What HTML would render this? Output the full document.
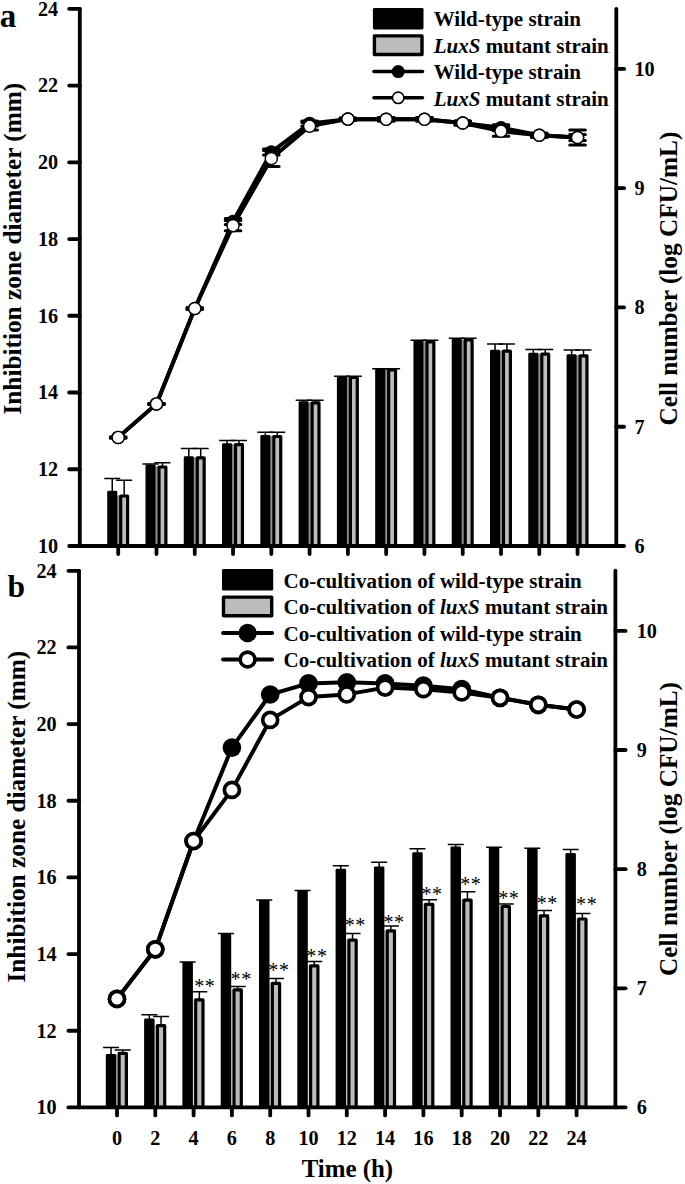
<!DOCTYPE html>
<html><head><meta charset="utf-8"><title>Figure</title>
<style>
html,body{margin:0;padding:0;background:#fff;}
body{width:685px;height:1184px;overflow:hidden;}
svg{display:block;}
text{font-family:"Liberation Serif",serif;font-weight:bold;fill:#000;}
.tk{font-size:20.2px;}
.lg{font-size:21.0px;}
.ax{font-size:25.3px;}
.pl{font-size:33px;}
.st{font-size:20px;font-weight:normal;letter-spacing:0.6px;}
</style></head><body>
<svg width="685" height="1184" viewBox="0 0 685 1184">
<rect width="685" height="1184" fill="#fff"/>
<g id="panel-a">
<rect x="117.00" y="495.40" width="2.40" height="50.60" fill="#909090"/>
<path d="M124.15 496.4 V480.2 M116.15 480.2 H132.15" stroke="#000" stroke-width="1.5" fill="none"/>
<path d="M112.25 492.8 V478.4 M104.25 478.4 H120.25" stroke="#000" stroke-width="1.5" fill="none"/>
<rect x="107.20" y="490.8" width="10.10" height="55.20" rx="1.4" fill="#000"/>
<rect x="120.70" y="496.00" width="6.90" height="50.00" fill="#bcbcbc" stroke="#000" stroke-width="3.2" stroke-linejoin="round"/>
<rect x="155.28" y="466.40" width="2.40" height="79.60" fill="#909090"/>
<path d="M162.43 467.4 V462.7 M154.43 462.7 H170.43" stroke="#000" stroke-width="1.5" fill="none"/>
<path d="M150.53 466.5 V464.09999999999997 M142.53 464.09999999999997 H158.53" stroke="#000" stroke-width="1.5" fill="none"/>
<rect x="145.48" y="464.5" width="10.10" height="81.50" rx="1.4" fill="#000"/>
<rect x="158.98" y="467.00" width="6.90" height="79.00" fill="#bcbcbc" stroke="#000" stroke-width="3.2" stroke-linejoin="round"/>
<rect x="193.56" y="457.30" width="2.40" height="88.70" fill="#909090"/>
<path d="M200.71 458.2 V448.59999999999997 M192.71 448.59999999999997 H208.71" stroke="#000" stroke-width="1.5" fill="none"/>
<path d="M188.81 458.3 V448.59999999999997 M180.81 448.59999999999997 H196.81" stroke="#000" stroke-width="1.5" fill="none"/>
<rect x="183.76" y="456.3" width="10.10" height="89.70" rx="1.4" fill="#000"/>
<rect x="197.26" y="457.80" width="6.90" height="88.20" fill="#bcbcbc" stroke="#000" stroke-width="3.2" stroke-linejoin="round"/>
<rect x="231.84" y="444.20" width="2.40" height="101.80" fill="#909090"/>
<path d="M238.99 445.09999999999997 V440.4 M230.99 440.4 H246.99" stroke="#000" stroke-width="1.5" fill="none"/>
<path d="M227.09 445.2 V440.4 M219.09 440.4 H235.09" stroke="#000" stroke-width="1.5" fill="none"/>
<rect x="222.04" y="443.2" width="10.10" height="102.80" rx="1.4" fill="#000"/>
<rect x="235.54" y="444.70" width="6.90" height="101.30" fill="#bcbcbc" stroke="#000" stroke-width="3.2" stroke-linejoin="round"/>
<rect x="270.12" y="436.00" width="2.40" height="110.00" fill="#909090"/>
<path d="M277.27 436.9 V432.29999999999995 M269.27 432.29999999999995 H285.27" stroke="#000" stroke-width="1.5" fill="none"/>
<path d="M265.37 437.0 V432.29999999999995 M257.37 432.29999999999995 H273.37" stroke="#000" stroke-width="1.5" fill="none"/>
<rect x="260.32" y="435.0" width="10.10" height="111.00" rx="1.4" fill="#000"/>
<rect x="273.82" y="436.50" width="6.90" height="109.50" fill="#bcbcbc" stroke="#000" stroke-width="3.2" stroke-linejoin="round"/>
<rect x="308.40" y="402.30" width="2.40" height="143.70" fill="#909090"/>
<path d="M315.55 403.2 V400.2 M307.55 400.2 H323.55" stroke="#000" stroke-width="1.5" fill="none"/>
<path d="M303.65 403.3 V400.2 M295.65 400.2 H311.65" stroke="#000" stroke-width="1.5" fill="none"/>
<rect x="298.60" y="401.3" width="10.10" height="144.70" rx="1.4" fill="#000"/>
<rect x="312.10" y="402.80" width="6.90" height="143.20" fill="#bcbcbc" stroke="#000" stroke-width="3.2" stroke-linejoin="round"/>
<rect x="346.68" y="377.00" width="2.40" height="169.00" fill="#909090"/>
<path d="M353.83 377.9 V376.2 M345.83 376.2 H361.83" stroke="#000" stroke-width="1.5" fill="none"/>
<path d="M341.93 378.0 V376.2 M333.93 376.2 H349.93" stroke="#000" stroke-width="1.5" fill="none"/>
<rect x="336.88" y="376.0" width="10.10" height="170.00" rx="1.4" fill="#000"/>
<rect x="350.38" y="377.50" width="6.90" height="168.50" fill="#bcbcbc" stroke="#000" stroke-width="3.2" stroke-linejoin="round"/>
<rect x="384.96" y="369.50" width="2.40" height="176.50" fill="#909090"/>
<path d="M392.11 370.4 V368.7 M384.11 368.7 H400.11" stroke="#000" stroke-width="1.5" fill="none"/>
<path d="M380.21 370.5 V368.7 M372.21 368.7 H388.21" stroke="#000" stroke-width="1.5" fill="none"/>
<rect x="375.16" y="368.5" width="10.10" height="177.50" rx="1.4" fill="#000"/>
<rect x="388.66" y="370.00" width="6.90" height="176.00" fill="#bcbcbc" stroke="#000" stroke-width="3.2" stroke-linejoin="round"/>
<rect x="423.24" y="341.50" width="2.40" height="204.50" fill="#909090"/>
<path d="M430.39 342.4 V340.2 M422.39 340.2 H438.39" stroke="#000" stroke-width="1.5" fill="none"/>
<path d="M418.49 342.5 V340.2 M410.49 340.2 H426.49" stroke="#000" stroke-width="1.5" fill="none"/>
<rect x="413.44" y="340.5" width="10.10" height="205.50" rx="1.4" fill="#000"/>
<rect x="426.94" y="342.00" width="6.90" height="204.00" fill="#bcbcbc" stroke="#000" stroke-width="3.2" stroke-linejoin="round"/>
<rect x="461.52" y="339.50" width="2.40" height="206.50" fill="#909090"/>
<path d="M468.67 340.4 V338.2 M460.67 338.2 H476.67" stroke="#000" stroke-width="1.5" fill="none"/>
<path d="M456.77 340.5 V338.2 M448.77 338.2 H464.77" stroke="#000" stroke-width="1.5" fill="none"/>
<rect x="451.72" y="338.5" width="10.10" height="207.50" rx="1.4" fill="#000"/>
<rect x="465.22" y="340.00" width="6.90" height="206.00" fill="#bcbcbc" stroke="#000" stroke-width="3.2" stroke-linejoin="round"/>
<rect x="499.80" y="350.70" width="2.40" height="195.30" fill="#909090"/>
<path d="M506.95 351.59999999999997 V344.0 M498.95 344.0 H514.95" stroke="#000" stroke-width="1.5" fill="none"/>
<path d="M495.05 351.7 V344.0 M487.05 344.0 H503.05" stroke="#000" stroke-width="1.5" fill="none"/>
<rect x="490.00" y="349.7" width="10.10" height="196.30" rx="1.4" fill="#000"/>
<rect x="503.50" y="351.20" width="6.90" height="194.80" fill="#bcbcbc" stroke="#000" stroke-width="3.2" stroke-linejoin="round"/>
<rect x="538.08" y="353.70" width="2.40" height="192.30" fill="#909090"/>
<path d="M545.23 354.59999999999997 V349.59999999999997 M537.23 349.59999999999997 H553.23" stroke="#000" stroke-width="1.5" fill="none"/>
<path d="M533.33 354.7 V349.59999999999997 M525.33 349.59999999999997 H541.33" stroke="#000" stroke-width="1.5" fill="none"/>
<rect x="528.28" y="352.7" width="10.10" height="193.30" rx="1.4" fill="#000"/>
<rect x="541.78" y="354.20" width="6.90" height="191.80" fill="#bcbcbc" stroke="#000" stroke-width="3.2" stroke-linejoin="round"/>
<rect x="576.36" y="355.30" width="2.40" height="190.70" fill="#909090"/>
<path d="M583.51 356.2 V350.09999999999997 M575.51 350.09999999999997 H591.51" stroke="#000" stroke-width="1.5" fill="none"/>
<path d="M571.61 356.3 V350.09999999999997 M563.61 350.09999999999997 H579.61" stroke="#000" stroke-width="1.5" fill="none"/>
<rect x="566.56" y="354.3" width="10.10" height="191.70" rx="1.4" fill="#000"/>
<rect x="580.06" y="355.80" width="6.90" height="190.20" fill="#bcbcbc" stroke="#000" stroke-width="3.2" stroke-linejoin="round"/>
<path d="M79.8 8.8 V546.0" stroke="#000" stroke-width="3.8" stroke-linecap="round" fill="none"/>
<path d="M69.2 546.0 H624.1" stroke="#000" stroke-width="3.8" stroke-linecap="round" fill="none"/>
<path d="M616.3 8.8 V546.0" stroke="#000" stroke-width="3.8" stroke-linecap="round" fill="none"/>
<text x="58.2" y="552.90" text-anchor="end" class="tk">10</text>
<path d="M69.2 469.26 H79.8" stroke="#000" stroke-width="3.8" stroke-linecap="round" fill="none"/>
<text x="58.2" y="476.16" text-anchor="end" class="tk">12</text>
<path d="M69.2 392.51 H79.8" stroke="#000" stroke-width="3.8" stroke-linecap="round" fill="none"/>
<text x="58.2" y="399.41" text-anchor="end" class="tk">14</text>
<path d="M69.2 315.77 H79.8" stroke="#000" stroke-width="3.8" stroke-linecap="round" fill="none"/>
<text x="58.2" y="322.67" text-anchor="end" class="tk">16</text>
<path d="M69.2 239.03 H79.8" stroke="#000" stroke-width="3.8" stroke-linecap="round" fill="none"/>
<text x="58.2" y="245.93" text-anchor="end" class="tk">18</text>
<path d="M69.2 162.29 H79.8" stroke="#000" stroke-width="3.8" stroke-linecap="round" fill="none"/>
<text x="58.2" y="169.19" text-anchor="end" class="tk">20</text>
<path d="M69.2 85.54 H79.8" stroke="#000" stroke-width="3.8" stroke-linecap="round" fill="none"/>
<text x="58.2" y="92.44" text-anchor="end" class="tk">22</text>
<path d="M69.2 8.80 H79.8" stroke="#000" stroke-width="3.8" stroke-linecap="round" fill="none"/>
<text x="58.2" y="15.70" text-anchor="end" class="tk">24</text>
<text x="634.5" y="552.90" class="tk">6</text>
<path d="M616.3 426.73 H624.1" stroke="#000" stroke-width="3.8" stroke-linecap="round" fill="none"/>
<text x="634.5" y="433.62" class="tk">7</text>
<path d="M616.3 307.45 H624.1" stroke="#000" stroke-width="3.8" stroke-linecap="round" fill="none"/>
<text x="634.5" y="314.35" class="tk">8</text>
<path d="M616.3 188.17 H624.1" stroke="#000" stroke-width="3.8" stroke-linecap="round" fill="none"/>
<text x="634.5" y="195.07" class="tk">9</text>
<path d="M616.3 68.90 H624.1" stroke="#000" stroke-width="3.8" stroke-linecap="round" fill="none"/>
<text x="634.5" y="75.80" class="tk">10</text>
<path d="M118.20 546.0 V554.00" stroke="#000" stroke-width="3.8" stroke-linecap="round" fill="none"/>
<path d="M156.48 546.0 V554.00" stroke="#000" stroke-width="3.8" stroke-linecap="round" fill="none"/>
<path d="M194.76 546.0 V554.00" stroke="#000" stroke-width="3.8" stroke-linecap="round" fill="none"/>
<path d="M233.04 546.0 V554.00" stroke="#000" stroke-width="3.8" stroke-linecap="round" fill="none"/>
<path d="M271.32 546.0 V554.00" stroke="#000" stroke-width="3.8" stroke-linecap="round" fill="none"/>
<path d="M309.60 546.0 V554.00" stroke="#000" stroke-width="3.8" stroke-linecap="round" fill="none"/>
<path d="M347.88 546.0 V554.00" stroke="#000" stroke-width="3.8" stroke-linecap="round" fill="none"/>
<path d="M386.16 546.0 V554.00" stroke="#000" stroke-width="3.8" stroke-linecap="round" fill="none"/>
<path d="M424.44 546.0 V554.00" stroke="#000" stroke-width="3.8" stroke-linecap="round" fill="none"/>
<path d="M462.72 546.0 V554.00" stroke="#000" stroke-width="3.8" stroke-linecap="round" fill="none"/>
<path d="M501.00 546.0 V554.00" stroke="#000" stroke-width="3.8" stroke-linecap="round" fill="none"/>
<path d="M539.28 546.0 V554.00" stroke="#000" stroke-width="3.8" stroke-linecap="round" fill="none"/>
<path d="M577.56 546.0 V554.00" stroke="#000" stroke-width="3.8" stroke-linecap="round" fill="none"/>
<polyline points="118.20,437.40 156.48,403.90 194.76,308.50 233.04,221.50 271.32,152.00 309.60,123.40 347.88,119.10 386.16,119.30 424.44,119.30 462.72,123.00 501.00,127.70 539.28,135.20 577.56,137.50" fill="none" stroke="#000" stroke-width="3.9" stroke-linejoin="round"/>
<path d="M118.20 436.90 V437.90 M110.40 436.90 h15.6 M110.40 437.90 h15.6" stroke="#000" stroke-width="3.0" stroke-linecap="round" fill="none"/>
<path d="M156.48 403.40 V404.40 M148.68 403.40 h15.6 M148.68 404.40 h15.6" stroke="#000" stroke-width="3.0" stroke-linecap="round" fill="none"/>
<path d="M194.76 307.70 V309.30 M186.96 307.70 h15.6 M186.96 309.30 h15.6" stroke="#000" stroke-width="3.0" stroke-linecap="round" fill="none"/>
<path d="M233.04 218.50 V224.50 M225.24 218.50 h15.6 M225.24 224.50 h15.6" stroke="#000" stroke-width="3.0" stroke-linecap="round" fill="none"/>
<path d="M271.32 149.00 V155.00 M263.52 149.00 h15.6 M263.52 155.00 h15.6" stroke="#000" stroke-width="3.0" stroke-linecap="round" fill="none"/>
<path d="M309.60 120.90 V125.90 M301.80 120.90 h15.6 M301.80 125.90 h15.6" stroke="#000" stroke-width="3.0" stroke-linecap="round" fill="none"/>
<path d="M347.88 117.90 V120.30 M340.08 117.90 h15.6 M340.08 120.30 h15.6" stroke="#000" stroke-width="3.0" stroke-linecap="round" fill="none"/>
<path d="M386.16 117.50 V121.10 M378.36 117.50 h15.6 M378.36 121.10 h15.6" stroke="#000" stroke-width="3.0" stroke-linecap="round" fill="none"/>
<path d="M424.44 117.50 V121.10 M416.64 117.50 h15.6 M416.64 121.10 h15.6" stroke="#000" stroke-width="3.0" stroke-linecap="round" fill="none"/>
<path d="M462.72 121.00 V125.00 M454.92 121.00 h15.6 M454.92 125.00 h15.6" stroke="#000" stroke-width="3.0" stroke-linecap="round" fill="none"/>
<path d="M501.00 124.70 V130.70 M493.20 124.70 h15.6 M493.20 130.70 h15.6" stroke="#000" stroke-width="3.0" stroke-linecap="round" fill="none"/>
<path d="M539.28 133.20 V137.20 M531.48 133.20 h15.6 M531.48 137.20 h15.6" stroke="#000" stroke-width="3.0" stroke-linecap="round" fill="none"/>
<path d="M577.56 134.50 V140.50 M569.76 134.50 h15.6 M569.76 140.50 h15.6" stroke="#000" stroke-width="3.0" stroke-linecap="round" fill="none"/>
<circle cx="118.20" cy="437.40" r="6.77" fill="#000"/>
<circle cx="156.48" cy="403.90" r="6.77" fill="#000"/>
<circle cx="194.76" cy="308.50" r="6.77" fill="#000"/>
<circle cx="233.04" cy="221.50" r="6.77" fill="#000"/>
<circle cx="271.32" cy="152.00" r="6.77" fill="#000"/>
<circle cx="309.60" cy="123.40" r="6.77" fill="#000"/>
<circle cx="347.88" cy="119.10" r="6.77" fill="#000"/>
<circle cx="386.16" cy="119.30" r="6.77" fill="#000"/>
<circle cx="424.44" cy="119.30" r="6.77" fill="#000"/>
<circle cx="462.72" cy="123.00" r="6.77" fill="#000"/>
<circle cx="501.00" cy="127.70" r="6.77" fill="#000"/>
<circle cx="539.28" cy="135.20" r="6.77" fill="#000"/>
<circle cx="577.56" cy="137.50" r="6.77" fill="#000"/>
<polyline points="118.20,437.40 156.48,403.90 194.76,308.50 233.04,225.60 271.32,158.50 309.60,126.20 347.88,119.10 386.16,119.30 424.44,119.30 462.72,123.00 501.00,131.20 539.28,135.20 577.56,137.50" fill="none" stroke="#000" stroke-width="3.9" stroke-linejoin="round"/>
<path d="M118.20 436.90 V437.90 M110.40 436.90 h15.6 M110.40 437.90 h15.6" stroke="#000" stroke-width="3.0" stroke-linecap="round" fill="none"/>
<path d="M156.48 403.40 V404.40 M148.68 403.40 h15.6 M148.68 404.40 h15.6" stroke="#000" stroke-width="3.0" stroke-linecap="round" fill="none"/>
<path d="M194.76 307.70 V309.30 M186.96 307.70 h15.6 M186.96 309.30 h15.6" stroke="#000" stroke-width="3.0" stroke-linecap="round" fill="none"/>
<path d="M233.04 220.40 V230.80 M225.24 220.40 h15.6 M225.24 230.80 h15.6" stroke="#000" stroke-width="3.0" stroke-linecap="round" fill="none"/>
<path d="M271.32 150.50 V166.50 M263.52 150.50 h15.6 M263.52 166.50 h15.6" stroke="#000" stroke-width="3.0" stroke-linecap="round" fill="none"/>
<path d="M309.60 122.40 V130.00 M301.80 122.40 h15.6 M301.80 130.00 h15.6" stroke="#000" stroke-width="3.0" stroke-linecap="round" fill="none"/>
<path d="M347.88 117.90 V120.30 M340.08 117.90 h15.6 M340.08 120.30 h15.6" stroke="#000" stroke-width="3.0" stroke-linecap="round" fill="none"/>
<path d="M386.16 117.50 V121.10 M378.36 117.50 h15.6 M378.36 121.10 h15.6" stroke="#000" stroke-width="3.0" stroke-linecap="round" fill="none"/>
<path d="M424.44 117.50 V121.10 M416.64 117.50 h15.6 M416.64 121.10 h15.6" stroke="#000" stroke-width="3.0" stroke-linecap="round" fill="none"/>
<path d="M462.72 121.00 V125.00 M454.92 121.00 h15.6 M454.92 125.00 h15.6" stroke="#000" stroke-width="3.0" stroke-linecap="round" fill="none"/>
<path d="M501.00 126.20 V136.20 M493.20 126.20 h15.6 M493.20 136.20 h15.6" stroke="#000" stroke-width="3.0" stroke-linecap="round" fill="none"/>
<path d="M539.28 133.20 V137.20 M531.48 133.20 h15.6 M531.48 137.20 h15.6" stroke="#000" stroke-width="3.0" stroke-linecap="round" fill="none"/>
<path d="M577.56 130.00 V145.00 M569.76 130.00 h15.6 M569.76 145.00 h15.6" stroke="#000" stroke-width="3.0" stroke-linecap="round" fill="none"/>
<circle cx="118.20" cy="437.40" r="6.05" fill="#fff" stroke="#000" stroke-width="1.45"/>
<circle cx="156.48" cy="403.90" r="6.05" fill="#fff" stroke="#000" stroke-width="1.45"/>
<circle cx="194.76" cy="308.50" r="6.05" fill="#fff" stroke="#000" stroke-width="1.45"/>
<circle cx="233.04" cy="225.60" r="6.05" fill="#fff" stroke="#000" stroke-width="1.45"/>
<circle cx="271.32" cy="158.50" r="6.05" fill="#fff" stroke="#000" stroke-width="1.45"/>
<circle cx="309.60" cy="126.20" r="6.05" fill="#fff" stroke="#000" stroke-width="1.45"/>
<circle cx="347.88" cy="119.10" r="6.05" fill="#fff" stroke="#000" stroke-width="1.45"/>
<circle cx="386.16" cy="119.30" r="6.05" fill="#fff" stroke="#000" stroke-width="1.45"/>
<circle cx="424.44" cy="119.30" r="6.05" fill="#fff" stroke="#000" stroke-width="1.45"/>
<circle cx="462.72" cy="123.00" r="6.05" fill="#fff" stroke="#000" stroke-width="1.45"/>
<circle cx="501.00" cy="131.20" r="6.05" fill="#fff" stroke="#000" stroke-width="1.45"/>
<circle cx="539.28" cy="135.20" r="6.05" fill="#fff" stroke="#000" stroke-width="1.45"/>
<circle cx="577.56" cy="137.50" r="6.05" fill="#fff" stroke="#000" stroke-width="1.45"/>
<rect x="372.9" y="7.9" width="50.6" height="21.6" rx="1.4" fill="#000"/>
<rect x="374.4" y="35.9" width="47.6" height="18.6" fill="#bcbcbc" stroke="#000" stroke-width="3.4" stroke-linejoin="round"/>
<path d="M373.9 71.60000000000001 H422.5" stroke="#000" stroke-width="3.5" stroke-linecap="round"/>
<circle cx="398.2" cy="71.60000000000001" r="6.5" fill="#000"/>
<path d="M373.9 97.80000000000001 H422.5" stroke="#000" stroke-width="3.5" stroke-linecap="round"/>
<circle cx="398.2" cy="97.80000000000001" r="5.7" fill="#fff" stroke="#000" stroke-width="1.6"/>
<text x="433.7" y="26.40" class="lg">Wild-type strain</text>
<text x="433.7" y="52.80" class="lg"><tspan font-style="italic">LuxS</tspan> mutant strain</text>
<text x="433.7" y="79.20" class="lg">Wild-type strain</text>
<text x="433.7" y="105.60" class="lg"><tspan font-style="italic">LuxS</tspan> mutant strain</text>
<text x="-0.3" y="26.6" class="pl">a</text>
<text transform="translate(21,414.6) rotate(-90)" class="ax">Inhibition zone diameter (mm)</text>
<text transform="translate(676.5,425.6) rotate(-90)" class="ax">Cell number (log CFU/mL)</text>
</g>
<g id="panel-b">
<rect x="116.00" y="1055.10" width="1.80" height="52.30" fill="#d8d8d8"/>
<path d="M122.75 1053.8 V1050 M114.75 1050 H130.75" stroke="#000" stroke-width="1.5" fill="none"/>
<path d="M111.05 1056.1 V1047.4 M103.05 1047.4 H119.05" stroke="#000" stroke-width="1.5" fill="none"/>
<rect x="105.80" y="1054.1" width="10.50" height="53.30" rx="1.4" fill="#000"/>
<rect x="119.10" y="1053.40" width="7.30" height="54.00" fill="#bcbcbc" stroke="#000" stroke-width="3.2" stroke-linejoin="round"/>
<rect x="154.30" y="1025.10" width="1.80" height="82.30" fill="#d8d8d8"/>
<path d="M161.05 1026.1000000000001 V1016.4 M153.05 1016.4 H169.05" stroke="#000" stroke-width="1.5" fill="none"/>
<path d="M149.35 1020.5 V1014.7 M141.35 1014.7 H157.35" stroke="#000" stroke-width="1.5" fill="none"/>
<rect x="144.10" y="1018.5" width="10.50" height="88.90" rx="1.4" fill="#000"/>
<rect x="157.40" y="1025.70" width="7.30" height="81.70" fill="#bcbcbc" stroke="#000" stroke-width="3.2" stroke-linejoin="round"/>
<rect x="192.60" y="999.20" width="1.80" height="108.20" fill="#d8d8d8"/>
<path d="M199.35 1000.2 V991.8 M191.35 991.8 H207.35" stroke="#000" stroke-width="1.5" fill="none"/>
<path d="M187.65 964.1 V962.1 M179.65 962.1 H195.65" stroke="#000" stroke-width="1.5" fill="none"/>
<rect x="182.40" y="962.1" width="10.50" height="145.30" rx="1.4" fill="#000"/>
<rect x="195.70" y="999.80" width="7.30" height="107.60" fill="#bcbcbc" stroke="#000" stroke-width="3.2" stroke-linejoin="round"/>
<text x="194.20" y="993.20" class="st">**</text>
<rect x="230.90" y="989.20" width="1.80" height="118.20" fill="#d8d8d8"/>
<path d="M237.65 990.2 V986.6 M229.65 986.6 H245.65" stroke="#000" stroke-width="1.5" fill="none"/>
<path d="M225.95 935.5 V933.5 M217.95 933.5 H233.95" stroke="#000" stroke-width="1.5" fill="none"/>
<rect x="220.70" y="933.5" width="10.50" height="173.90" rx="1.4" fill="#000"/>
<rect x="234.00" y="989.80" width="7.30" height="117.60" fill="#bcbcbc" stroke="#000" stroke-width="3.2" stroke-linejoin="round"/>
<text x="230.60" y="985.90" class="st">**</text>
<rect x="269.20" y="982.80" width="1.80" height="124.60" fill="#d8d8d8"/>
<path d="M275.95 983.8000000000001 V978.5 M267.95 978.5 H283.95" stroke="#000" stroke-width="1.5" fill="none"/>
<path d="M264.25 902 V900 M256.25 900 H272.25" stroke="#000" stroke-width="1.5" fill="none"/>
<rect x="259.00" y="900" width="10.50" height="207.40" rx="1.4" fill="#000"/>
<rect x="272.30" y="983.40" width="7.30" height="124.00" fill="#bcbcbc" stroke="#000" stroke-width="3.2" stroke-linejoin="round"/>
<text x="268.30" y="977.20" class="st">**</text>
<rect x="307.50" y="965.30" width="1.80" height="142.10" fill="#d8d8d8"/>
<path d="M314.25 966.3000000000001 V961.6 M306.25 961.6 H322.25" stroke="#000" stroke-width="1.5" fill="none"/>
<path d="M302.55 892.4 V890.4 M294.55 890.4 H310.55" stroke="#000" stroke-width="1.5" fill="none"/>
<rect x="297.30" y="890.4" width="10.50" height="217.00" rx="1.4" fill="#000"/>
<rect x="310.60" y="965.90" width="7.30" height="141.50" fill="#bcbcbc" stroke="#000" stroke-width="3.2" stroke-linejoin="round"/>
<text x="306.30" y="963.20" class="st">**</text>
<rect x="345.80" y="939.60" width="1.80" height="167.80" fill="#d8d8d8"/>
<path d="M352.55 940.6 V933.6 M344.55 933.6 H360.55" stroke="#000" stroke-width="1.5" fill="none"/>
<path d="M340.85 870.8 V865.8 M332.85 865.8 H348.85" stroke="#000" stroke-width="1.5" fill="none"/>
<rect x="335.60" y="868.8" width="10.50" height="238.60" rx="1.4" fill="#000"/>
<rect x="348.90" y="940.20" width="7.30" height="167.20" fill="#bcbcbc" stroke="#000" stroke-width="3.2" stroke-linejoin="round"/>
<text x="344.70" y="932.00" class="st">**</text>
<rect x="384.10" y="930.20" width="1.80" height="177.20" fill="#d8d8d8"/>
<path d="M390.85 931.2 V926 M382.85 926 H398.85" stroke="#000" stroke-width="1.5" fill="none"/>
<path d="M379.15 868.4 V862.3 M371.15 862.3 H387.15" stroke="#000" stroke-width="1.5" fill="none"/>
<rect x="373.90" y="866.4" width="10.50" height="241.00" rx="1.4" fill="#000"/>
<rect x="387.20" y="930.80" width="7.30" height="176.60" fill="#bcbcbc" stroke="#000" stroke-width="3.2" stroke-linejoin="round"/>
<text x="383.40" y="928.50" class="st">**</text>
<rect x="422.40" y="903.70" width="1.80" height="203.70" fill="#d8d8d8"/>
<path d="M429.15 904.7 V899.7 M421.15 899.7 H437.15" stroke="#000" stroke-width="1.5" fill="none"/>
<path d="M417.45 854.3 V848.8 M409.45 848.8 H425.45" stroke="#000" stroke-width="1.5" fill="none"/>
<rect x="412.20" y="852.3" width="10.50" height="255.10" rx="1.4" fill="#000"/>
<rect x="425.50" y="904.30" width="7.30" height="203.10" fill="#bcbcbc" stroke="#000" stroke-width="3.2" stroke-linejoin="round"/>
<text x="421.50" y="901.20" class="st">**</text>
<rect x="460.70" y="899.50" width="1.80" height="207.90" fill="#d8d8d8"/>
<path d="M467.45 900.5 V891.7 M459.45 891.7 H475.45" stroke="#000" stroke-width="1.5" fill="none"/>
<path d="M455.75 848.4 V844.4 M447.75 844.4 H463.75" stroke="#000" stroke-width="1.5" fill="none"/>
<rect x="450.50" y="846.4" width="10.50" height="261.00" rx="1.4" fill="#000"/>
<rect x="463.80" y="900.10" width="7.30" height="207.30" fill="#bcbcbc" stroke="#000" stroke-width="3.2" stroke-linejoin="round"/>
<text x="460.20" y="891.00" class="st">**</text>
<rect x="499.00" y="905.90" width="1.80" height="201.50" fill="#d8d8d8"/>
<path d="M505.75 906.9000000000001 V904 M497.75 904 H513.75" stroke="#000" stroke-width="1.5" fill="none"/>
<path d="M494.05 849.3 V847.3 M486.05 847.3 H502.05" stroke="#000" stroke-width="1.5" fill="none"/>
<rect x="488.80" y="847.3" width="10.50" height="260.10" rx="1.4" fill="#000"/>
<rect x="502.10" y="906.50" width="7.30" height="200.90" fill="#bcbcbc" stroke="#000" stroke-width="3.2" stroke-linejoin="round"/>
<text x="498.20" y="904.70" class="st">**</text>
<rect x="537.30" y="915.20" width="1.80" height="192.20" fill="#d8d8d8"/>
<path d="M544.05 916.2 V910.4 M536.05 910.4 H552.05" stroke="#000" stroke-width="1.5" fill="none"/>
<path d="M532.35 850.2 V848.2 M524.35 848.2 H540.35" stroke="#000" stroke-width="1.5" fill="none"/>
<rect x="527.10" y="848.2" width="10.50" height="259.20" rx="1.4" fill="#000"/>
<rect x="540.40" y="915.80" width="7.30" height="191.60" fill="#bcbcbc" stroke="#000" stroke-width="3.2" stroke-linejoin="round"/>
<text x="536.70" y="909.90" class="st">**</text>
<rect x="575.60" y="918.40" width="1.80" height="189.00" fill="#d8d8d8"/>
<path d="M582.35 919.4000000000001 V913.6 M574.35 913.6 H590.35" stroke="#000" stroke-width="1.5" fill="none"/>
<path d="M570.65 855.1 V849.6 M562.65 849.6 H578.65" stroke="#000" stroke-width="1.5" fill="none"/>
<rect x="565.40" y="853.1" width="10.50" height="254.30" rx="1.4" fill="#000"/>
<rect x="578.70" y="919.00" width="7.30" height="188.40" fill="#bcbcbc" stroke="#000" stroke-width="3.2" stroke-linejoin="round"/>
<text x="576.10" y="911.40" class="st">**</text>
<path d="M79.0 570.8 V1107.4" stroke="#000" stroke-width="3.8" stroke-linecap="round" fill="none"/>
<path d="M68.4 1107.4 H625.6" stroke="#000" stroke-width="3.8" stroke-linecap="round" fill="none"/>
<path d="M615.4 570.7 V1107.4" stroke="#000" stroke-width="3.8" stroke-linecap="round" fill="none"/>
<text x="56.7" y="1114.30" text-anchor="end" class="tk">10</text>
<path d="M68.4 1030.74 H79.0" stroke="#000" stroke-width="3.8" stroke-linecap="round" fill="none"/>
<text x="56.7" y="1037.64" text-anchor="end" class="tk">12</text>
<path d="M68.4 954.09 H79.0" stroke="#000" stroke-width="3.8" stroke-linecap="round" fill="none"/>
<text x="56.7" y="960.99" text-anchor="end" class="tk">14</text>
<path d="M68.4 877.43 H79.0" stroke="#000" stroke-width="3.8" stroke-linecap="round" fill="none"/>
<text x="56.7" y="884.33" text-anchor="end" class="tk">16</text>
<path d="M68.4 800.77 H79.0" stroke="#000" stroke-width="3.8" stroke-linecap="round" fill="none"/>
<text x="56.7" y="807.67" text-anchor="end" class="tk">18</text>
<path d="M68.4 724.11 H79.0" stroke="#000" stroke-width="3.8" stroke-linecap="round" fill="none"/>
<text x="56.7" y="731.01" text-anchor="end" class="tk">20</text>
<path d="M68.4 647.46 H79.0" stroke="#000" stroke-width="3.8" stroke-linecap="round" fill="none"/>
<text x="56.7" y="654.36" text-anchor="end" class="tk">22</text>
<path d="M68.4 570.80 H79.0" stroke="#000" stroke-width="3.8" stroke-linecap="round" fill="none"/>
<text x="56.7" y="577.70" text-anchor="end" class="tk">24</text>
<text x="636.7" y="1114.30" class="tk">6</text>
<path d="M615.4 988.28 H625.6" stroke="#000" stroke-width="3.8" stroke-linecap="round" fill="none"/>
<text x="636.7" y="995.18" class="tk">7</text>
<path d="M615.4 869.15 H625.6" stroke="#000" stroke-width="3.8" stroke-linecap="round" fill="none"/>
<text x="636.7" y="876.05" class="tk">8</text>
<path d="M615.4 750.02 H625.6" stroke="#000" stroke-width="3.8" stroke-linecap="round" fill="none"/>
<text x="636.7" y="756.92" class="tk">9</text>
<path d="M615.4 630.90 H625.6" stroke="#000" stroke-width="3.8" stroke-linecap="round" fill="none"/>
<text x="636.7" y="637.80" class="tk">10</text>
<path d="M117.00 1107.4 V1115.40" stroke="#000" stroke-width="3.8" stroke-linecap="round" fill="none"/>
<path d="M155.30 1107.4 V1115.40" stroke="#000" stroke-width="3.8" stroke-linecap="round" fill="none"/>
<path d="M193.60 1107.4 V1115.40" stroke="#000" stroke-width="3.8" stroke-linecap="round" fill="none"/>
<path d="M231.90 1107.4 V1115.40" stroke="#000" stroke-width="3.8" stroke-linecap="round" fill="none"/>
<path d="M270.20 1107.4 V1115.40" stroke="#000" stroke-width="3.8" stroke-linecap="round" fill="none"/>
<path d="M308.50 1107.4 V1115.40" stroke="#000" stroke-width="3.8" stroke-linecap="round" fill="none"/>
<path d="M346.80 1107.4 V1115.40" stroke="#000" stroke-width="3.8" stroke-linecap="round" fill="none"/>
<path d="M385.10 1107.4 V1115.40" stroke="#000" stroke-width="3.8" stroke-linecap="round" fill="none"/>
<path d="M423.40 1107.4 V1115.40" stroke="#000" stroke-width="3.8" stroke-linecap="round" fill="none"/>
<path d="M461.70 1107.4 V1115.40" stroke="#000" stroke-width="3.8" stroke-linecap="round" fill="none"/>
<path d="M500.00 1107.4 V1115.40" stroke="#000" stroke-width="3.8" stroke-linecap="round" fill="none"/>
<path d="M538.30 1107.4 V1115.40" stroke="#000" stroke-width="3.8" stroke-linecap="round" fill="none"/>
<path d="M576.60 1107.4 V1115.40" stroke="#000" stroke-width="3.8" stroke-linecap="round" fill="none"/>
<polyline points="117.00,998.90 155.30,949.30 193.60,841.00 231.90,747.60 270.20,694.50 308.50,683.40 346.80,682.30 385.10,683.40 423.40,685.70 461.70,689.20 500.00,697.80 538.30,704.80 576.60,709.50" fill="none" stroke="#000" stroke-width="4.0" stroke-linejoin="round"/>
<circle cx="117.00" cy="998.90" r="9.35" fill="#000"/>
<circle cx="155.30" cy="949.30" r="9.35" fill="#000"/>
<circle cx="193.60" cy="841.00" r="9.35" fill="#000"/>
<circle cx="231.90" cy="747.60" r="9.35" fill="#000"/>
<circle cx="270.20" cy="694.50" r="9.35" fill="#000"/>
<circle cx="308.50" cy="683.40" r="9.35" fill="#000"/>
<circle cx="346.80" cy="682.30" r="9.35" fill="#000"/>
<circle cx="385.10" cy="683.40" r="9.35" fill="#000"/>
<circle cx="423.40" cy="685.70" r="9.35" fill="#000"/>
<circle cx="461.70" cy="689.20" r="9.35" fill="#000"/>
<circle cx="500.00" cy="697.80" r="9.35" fill="#000"/>
<circle cx="538.30" cy="704.80" r="9.35" fill="#000"/>
<circle cx="576.60" cy="709.50" r="9.35" fill="#000"/>
<polyline points="117.00,998.90 155.30,949.30 193.60,841.00 231.90,789.90 270.20,719.90 308.50,697.10 346.80,694.40 385.10,687.60 423.40,689.20 461.70,692.40 500.00,697.80 538.30,704.80 576.60,709.50" fill="none" stroke="#000" stroke-width="4.0" stroke-linejoin="round"/>
<circle cx="117.00" cy="998.90" r="7.5" fill="#fff" stroke="#000" stroke-width="3.7"/>
<circle cx="155.30" cy="949.30" r="7.5" fill="#fff" stroke="#000" stroke-width="3.7"/>
<circle cx="193.60" cy="841.00" r="7.5" fill="#fff" stroke="#000" stroke-width="3.7"/>
<circle cx="231.90" cy="789.90" r="7.5" fill="#fff" stroke="#000" stroke-width="3.7"/>
<circle cx="270.20" cy="719.90" r="7.5" fill="#fff" stroke="#000" stroke-width="3.7"/>
<circle cx="308.50" cy="697.10" r="7.5" fill="#fff" stroke="#000" stroke-width="3.7"/>
<circle cx="346.80" cy="694.40" r="7.5" fill="#fff" stroke="#000" stroke-width="3.7"/>
<circle cx="385.10" cy="687.60" r="7.5" fill="#fff" stroke="#000" stroke-width="3.7"/>
<circle cx="423.40" cy="689.20" r="7.5" fill="#fff" stroke="#000" stroke-width="3.7"/>
<circle cx="461.70" cy="692.40" r="7.5" fill="#fff" stroke="#000" stroke-width="3.7"/>
<circle cx="500.00" cy="697.80" r="7.5" fill="#fff" stroke="#000" stroke-width="3.7"/>
<circle cx="538.30" cy="704.80" r="7.5" fill="#fff" stroke="#000" stroke-width="3.7"/>
<circle cx="576.60" cy="709.50" r="7.5" fill="#fff" stroke="#000" stroke-width="3.7"/>
<rect x="222.0" y="569.0" width="51.2" height="21.6" rx="1.4" fill="#000"/>
<rect x="223.5" y="597.1" width="48.2" height="18.6" fill="#bcbcbc" stroke="#000" stroke-width="3.4" stroke-linejoin="round"/>
<path d="M223.0 633.0 H272.2" stroke="#000" stroke-width="3.8" stroke-linecap="round"/>
<circle cx="247.6" cy="633.0" r="9.200000000000001" fill="#000"/>
<path d="M223.0 659.5 H272.2" stroke="#000" stroke-width="3.8" stroke-linecap="round"/>
<circle cx="247.6" cy="659.5" r="7.4" fill="#fff" stroke="#000" stroke-width="3.6"/>
<text x="283.6" y="587.60" class="lg">Co-cultivation of wild-type strain</text>
<text x="283.6" y="614.20" class="lg">Co-cultivation of <tspan font-style="italic">luxS</tspan> mutant strain</text>
<text x="283.6" y="640.80" class="lg">Co-cultivation of wild-type strain</text>
<text x="283.6" y="667.40" class="lg">Co-cultivation of <tspan font-style="italic">luxS</tspan> mutant strain</text>
<text x="7.4" y="597.3" class="pl" style="font-size:31.5px">b</text>
<text transform="translate(25,982.6) rotate(-90)" class="ax">Inhibition zone diameter (mm)</text>
<text transform="translate(677.4,975.9) rotate(-90)" class="ax">Cell number (log CFU/mL)</text>
<text x="117.00" y="1145.1" text-anchor="middle" class="tk">0</text>
<text x="155.30" y="1145.1" text-anchor="middle" class="tk">2</text>
<text x="193.60" y="1145.1" text-anchor="middle" class="tk">4</text>
<text x="231.90" y="1145.1" text-anchor="middle" class="tk">6</text>
<text x="270.20" y="1145.1" text-anchor="middle" class="tk">8</text>
<text x="308.50" y="1145.1" text-anchor="middle" class="tk">10</text>
<text x="346.80" y="1145.1" text-anchor="middle" class="tk">12</text>
<text x="385.10" y="1145.1" text-anchor="middle" class="tk">14</text>
<text x="423.40" y="1145.1" text-anchor="middle" class="tk">16</text>
<text x="461.70" y="1145.1" text-anchor="middle" class="tk">18</text>
<text x="500.00" y="1145.1" text-anchor="middle" class="tk">20</text>
<text x="538.30" y="1145.1" text-anchor="middle" class="tk">22</text>
<text x="576.60" y="1145.1" text-anchor="middle" class="tk">24</text>
<text x="347.4" y="1177.2" text-anchor="middle" class="ax" style="font-size:24.9px">Time (h)</text>
</g>
</svg></body></html>
